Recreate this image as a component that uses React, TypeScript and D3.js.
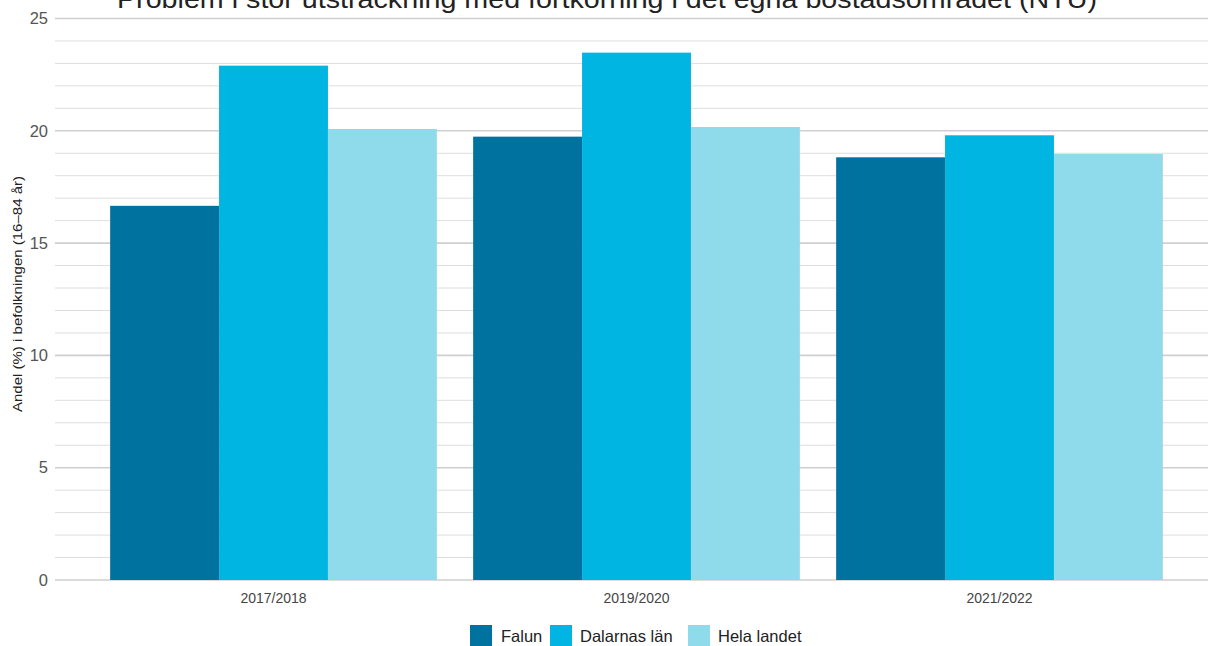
import React from "react";
import * as d3 from "d3";

const categories = ["2017/2018", "2019/2020", "2021/2022"];
const seriesNames = ["Falun", "Dalarnas län", "Hela landet"];
const falun = [16.66, 19.74, 18.82];
const dalarna = [22.9, 23.48, 19.8];
const helaLandet = [20.08, 20.17, 18.97];
const yTicks = [0, 5, 10, 15, 20, 25];
const colors = ["#0072a0", "#00b5e2", "#90dbeb"];

const W = 1208;
const H = 646;

export default function App() {
  const seriesValues = [falun, dalarna, helaLandet];
  const y = d3.scaleLinear().domain([0, 25]).range([580, 18.5]);
  const x0 = d3.scaleBand().domain(categories).range([92, 1181]).paddingInner(0.1).paddingOuter(0.05);
  const x1 = d3.scaleBand().domain(seriesNames).range([0, x0.bandwidth()]).padding(0);
  const minor = d3.range(0, 26, 1).filter((v) => v % 5 !== 0);
  const font = "'Liberation Sans', Arial, sans-serif";

  const legendItems = [
    { name: seriesNames[0], sx: 470, tx: 501 },
    { name: seriesNames[1], sx: 550, tx: 580 },
    { name: seriesNames[2], sx: 688, tx: 718 },
  ];

  return (
    <svg width={W} height={H} style={{ position: "absolute", left: 0, top: 0, background: "#fff" }} fontFamily={font}>
      <rect width={W} height={H} fill="#fff" />
      {minor.map((v) => (
        <line key={"m" + v} x1={55} x2={W} y1={y(v)} y2={y(v)} stroke="#dedede" strokeWidth={1} />
      ))}
      {yTicks.map((v) => (
        <g key={"t" + v}>
          <line x1={55} x2={W} y1={y(v)} y2={y(v)} stroke="#cfcfcf" strokeWidth={1.6} />
          <text x={48} y={y(v)} dy="0.35em" textAnchor="end" fontSize={16.5} fill="#555">
            {v}
          </text>
        </g>
      ))}
      {categories.map((c, i) => (
        <g key={c} transform={`translate(${x0(c)},0)`}>
          {seriesNames.map((s, j) => (
            <rect
              key={s}
              x={x1(s)}
              y={y(seriesValues[j][i])}
              width={x1.bandwidth()}
              height={y(0) - y(seriesValues[j][i])}
              fill={colors[j]}
            />
          ))}
          <text x={x0.bandwidth() / 2} y={603} textAnchor="middle" fontSize={14} fill="#444">
            {c}
          </text>
        </g>
      ))}
      <text
        transform={`translate(22,294) rotate(-90)`}
        textAnchor="middle"
        fontSize={13.5}
        fill="#222"
        textLength={236}
        lengthAdjust="spacingAndGlyphs"
      >
        Andel (%) i befolkningen (16–84 år)
      </text>
      <text x={607} y={8} textAnchor="middle" fontSize={25} fill="#222" textLength={980} lengthAdjust="spacingAndGlyphs">
        Problem i stor utsträckning med fortkörning i det egna bostadsområdet (NTU)
      </text>
      {legendItems.map((l, i) => (
        <g key={l.name}>
          <rect x={l.sx} y={625} width={22} height={22} fill={colors[i]} />
          <text x={l.tx} y={642} fontSize={16.5} fill="#222">
            {l.name}
          </text>
        </g>
      ))}
    </svg>
  );
}
